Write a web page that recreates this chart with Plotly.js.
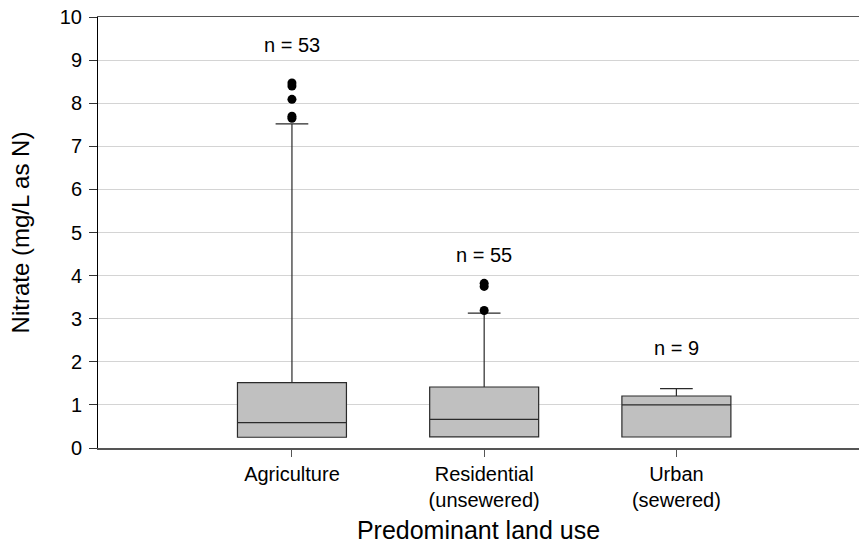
<!DOCTYPE html>
<html>
<head>
<meta charset="utf-8">
<script src="https://cdn.plot.ly/plotly-3.0.1.min.js"></script>
<style>html,body{margin:0;padding:0;background:#fff;}#chart{width:859px;height:544px;}</style>
</head>
<body>
<div id="chart"></div>
<script>
const categories = ["Agriculture", "Residential<br>(unsewered)", "Urban<br>(sewered)"];
const positions = [0, 1, 2];
const q1 = [0.25, 0.26, 0.255];
const medians = [0.59, 0.665, 1.0];
const q3 = [1.515, 1.415, 1.207];
const lowerWhisker = [0.25, 0.26, 0.255];
const upperWhisker = [7.52, 3.13, 1.376];
const outlierX = [0, 0, 0, 0, 0, 1, 1, 1];
const outlierY = [7.65, 7.7, 8.09, 8.4, 8.47, 3.19, 3.75, 3.82];
const nLabels = ["n = 53", "n = 55", "n = 9"];
const nLabelY = [9.35, 4.48, 2.32];

const FONT = "Liberation Sans, Arial, sans-serif";

const traces = [
  {
    type: "box",
    x: positions,
    q1: q1,
    median: medians,
    q3: q3,
    lowerfence: lowerWhisker,
    upperfence: upperWhisker,
    width: 0.567,
    whiskerwidth: 0.3,
    fillcolor: "#c0c0c0",
    line: {color: "#2a2a2a", width: 1.2},
    boxpoints: false,
    hoverinfo: "skip",
    showlegend: false
  },
  {
    type: "scatter",
    mode: "markers",
    x: outlierX,
    y: outlierY,
    marker: {color: "#000", size: 9},
    hoverinfo: "skip",
    showlegend: false
  }
];

const annotations = nLabels.map((t, i) => ({
  x: positions[i], y: nLabelY[i], text: t, showarrow: false,
  font: {family: FONT, size: 20, color: "#000"},
  xanchor: "center", yanchor: "middle"
}));

const layout = {
  width: 859, height: 544,
  margin: {l: 98, r: 0, t: 17, b: 96},
  paper_bgcolor: "#fff", plot_bgcolor: "#fff",
  font: {family: FONT, color: "#000"},
  showlegend: false,
  xaxis: {
    range: [-1.009, 2.95],
    tickmode: "array", tickvals: positions, ticktext: categories,
    ticks: "outside", ticklen: 7, tickcolor: "#555", tickwidth: 1,
    showline: true, linecolor: "#555", linewidth: 1.5, mirror: true,
    showgrid: false, zeroline: false,
    tickfont: {size: 20, color: "#000"},
    title: {text: "Predominant land use", font: {size: 25, color: "#000"}, standoff: 12}
  },
  yaxis: {
    range: [0, 10],
    tickvals: [0,1,2,3,4,5,6,7,8,9,10],
    ticks: "outside", ticklen: 8, tickcolor: "#333", tickwidth: 1,
    ticklabelstandoff: 3,
    showline: true, linecolor: "#000", linewidth: 1,
    showgrid: true, gridcolor: "#d4d4d4", gridwidth: 1,
    zeroline: false,
    tickfont: {size: 20, color: "#000"},
    title: {text: "Nitrate (mg/L as N)", font: {size: 24, color: "#000"}, standoff: 23}
  },
  annotations: annotations
};

Plotly.newPlot("chart", traces, layout, {staticPlot: true, displayModeBar: false});
</script>
</body>
</html>
